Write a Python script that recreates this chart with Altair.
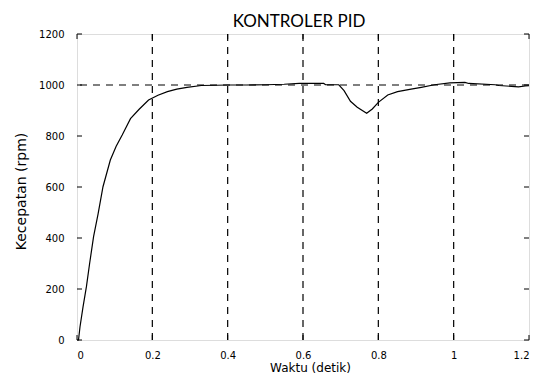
import altair as alt
import pandas as pd

# Response data (time in s, speed in rpm)
t = [0, 0.004, 0.008, 0.016, 0.025, 0.0335, 0.044, 0.056, 0.069, 0.0885, 0.104,
     0.12, 0.142, 0.165, 0.19, 0.215, 0.24, 0.265, 0.292, 0.33, 0.37, 0.4, 0.45,
     0.5, 0.55, 0.59, 0.655, 0.66, 0.695, 0.709, 0.726, 0.744, 0.769, 0.784, 0.8,
     0.825, 0.851, 0.887, 0.914, 0.949, 0.99, 1.03, 1.04, 1.11, 1.12, 1.172, 1.19, 1.2]
v = [0, 0, 52, 130, 209, 300, 405, 495, 601, 706, 760,
     804, 868, 905, 941, 960, 974, 984, 991, 998, 999, 1000, 1000,
     1001, 1003, 1006, 1006, 1001, 1001, 978, 936, 913, 889, 906, 932,
     961, 974, 984, 991, 1001, 1008, 1010, 1006, 1001, 998, 993, 996, 997]

x_ticks = [0, 0.2, 0.4, 0.6, 0.8, 1.0, 1.2]
y_ticks = [0, 200, 400, 600, 800, 1000, 1200]
x_grid = [0.2, 0.4, 0.6, 0.8, 1.0]
setpoint = [1000]

W, H = 452, 306
TL = 5

df = pd.DataFrame({"t": t, "v": v})
xs = alt.Scale(domain=[0, 1.2], nice=False)
ys = alt.Scale(domain=[0, 1200], nice=False)

x_axis = alt.Axis(values=x_ticks, format="~g", grid=False, ticks=False, domain=False,
                  labelPadding=10, labelFont="DejaVu Sans", labelFontSize=10,
                  labelColor="black", title="Waktu (detik)", titleFont="DejaVu Sans",
                  titleFontSize=12, titleFontWeight="normal", titleColor="black",
                  titleX=233, titleY=27, titleBaseline="middle")
y_axis = alt.Axis(values=y_ticks, format="d", grid=False, ticks=False, domain=False,
                  labelPadding=13, labelFont="DejaVu Sans", labelFontSize=10,
                  labelColor="black", title="Kecepatan (rpm)", titleFont="DejaVu Sans",
                  titleFontSize=14, titleFontWeight="normal", titleColor="black",
                  titleX=-56, titleY=157, titleBaseline="middle", titleAlign="center",
                  titleAngle=270)

line = alt.Chart(df).mark_line(color="black", strokeWidth=1.2).encode(
    x=alt.X("t:Q", scale=xs, axis=x_axis),
    y=alt.Y("v:Q", scale=ys, axis=y_axis),
)

grid = alt.Chart(pd.DataFrame({"g": x_grid})).mark_rule(
    color="black", strokeWidth=1.2, strokeDash=[7, 6]
).encode(x=alt.X("g:Q", scale=xs))

sp = alt.Chart(pd.DataFrame({"s": setpoint})).mark_rule(
    color="black", strokeWidth=1.2, strokeDash=[7, 6]
).encode(y=alt.Y("s:Q", scale=ys))

ydf = pd.DataFrame({"y": y_ticks})
xdf = pd.DataFrame({"x": x_ticks})
tick_l = alt.Chart(ydf).mark_rule(color="black", strokeWidth=1).encode(
    y=alt.Y("y:Q", scale=ys), x=alt.value(0), x2=alt.value(TL))
tick_r = alt.Chart(ydf).mark_rule(color="black", strokeWidth=1).encode(
    y=alt.Y("y:Q", scale=ys), x=alt.value(W - TL), x2=alt.value(W))
tick_b = alt.Chart(xdf).mark_rule(color="black", strokeWidth=1).encode(
    x=alt.X("x:Q", scale=xs), y=alt.value(H - TL), y2=alt.value(H))
tick_t = alt.Chart(xdf).mark_rule(color="black", strokeWidth=1).encode(
    x=alt.X("x:Q", scale=xs), y=alt.value(0), y2=alt.value(TL))

chart = alt.layer(grid, sp, tick_l, tick_r, tick_b, tick_t, line).properties(
    width=W, height=H,
    title=alt.TitleParams("KONTROLER PID", font="Lato", fontSize=17,
                          fontWeight="normal", color="black", anchor="middle",
                          offset=-2, dx=-4),
    autosize=alt.AutoSizeParams(type="none"),
    padding={"left": 69, "top": 26, "right": 9, "bottom": 35},
).configure_view(stroke="black", strokeWidth=1.5).configure(background="white")

chart.save("out.html", embed_options={"renderer": "svg", "actions": False})
